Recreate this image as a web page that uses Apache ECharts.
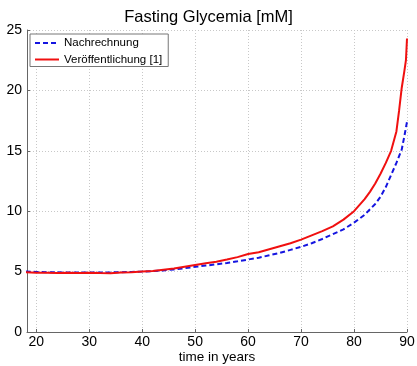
<!DOCTYPE html>
<html><head><meta charset="utf-8">
<script src="https://cdn.jsdelivr.net/npm/echarts@6/dist/echarts.min.js"></script>
<style>html,body{margin:0;padding:0;background:#fff}#c{width:417px;height:366px}</style>
</head><body><div id="c"></div>
<script>
const xTicks = [20, 30, 40, 50, 60, 70, 80, 90];
const yTicks = [0, 5, 10, 15, 20, 25];
const redYears = [18,20,22,24,26,28,30,32,34,36,38,40,42,44,46,48,50,52,54,56,58,60,62,64,66,68,70,72,74,76,78,80,81,82,83,84,85,86,87,88,88.5,89,89.5,89.8,90];
const redVals  = [4.95,4.9,4.9,4.88,4.9,4.88,4.9,4.88,4.87,4.92,4.95,5.0,5.05,5.15,5.25,5.4,5.55,5.7,5.82,6.0,6.2,6.45,6.6,6.85,7.1,7.35,7.65,8.0,8.35,8.75,9.3,10.0,10.5,11.0,11.6,12.3,13.1,14.0,15.0,16.6,18.3,20.2,21.6,22.5,24.3];
const blueYears = [18,20,22,24,26,28,30,32,34,36,38,40,42,44,46,48,50,52,54,56,58,60,62,64,66,68,70,72,74,76,78,80,82,84,85,86,87,88,89,89.5,90];
const blueVals  = [5.0,4.97,4.95,4.94,4.93,4.93,4.92,4.92,4.93,4.95,4.97,5.0,5.04,5.1,5.18,5.28,5.4,5.5,5.6,5.72,5.85,6.0,6.15,6.35,6.55,6.8,7.05,7.35,7.7,8.1,8.5,9.05,9.7,10.6,11.2,12.0,13.0,14.0,15.1,16.2,17.4];
const seriesNames = ['Nachrechnung', 'Veröffentlichung [1]'];

const chart = echarts.init(document.getElementById('c'));
const font = 'Liberation Sans, Arial, sans-serif';
chart.setOption({
  animation: false,
  title: {text: 'Fasting Glycemia [mM]', left: 'center', top: 4,
    textStyle: {fontFamily: font, fontSize: 16.5, fontWeight: 'normal', color: '#000'}},
  legend: {
    left: 30, top: 34, orient: 'vertical', itemGap: 4.5, itemWidth: 24, itemHeight: 12,
    backgroundColor: '#fff', borderColor: '#777', borderWidth: 1, borderRadius: 0,
    padding: [3, 6, 1, 4],
    itemStyle: {opacity: 0},
    textStyle: {fontFamily: font, fontSize: 11.5, color: '#000'}
  },
  grid: {left: 27, right: 10, top: 30, bottom: 34, outerBoundsMode: 'none', containLabel: false},
  xAxis: {
    type: 'value', min: 18.25, max: 90,
    name: 'time in years', nameLocation: 'middle', nameGap: 18, nameMoveOverlap: false,
    nameTextStyle: {fontFamily: font, fontSize: 13.5, color: '#000'},
    axisLine: {show: true, lineStyle: {color: '#666'}},
    axisTick: {show: true, inside: true, length: 3, customValues: xTicks, lineStyle: {color: '#666'}},
    axisLabel: {customValues: xTicks, fontFamily: font, fontSize: 14, color: '#000', margin: 3},
    splitLine: {show: true, lineStyle: {color: '#c8c8c8', type: [1, 2]}}
  },
  yAxis: {
    type: 'value', min: 0, max: 25, interval: 5,
    axisLine: {show: true, lineStyle: {color: '#666'}},
    axisTick: {show: true, inside: true, length: 3, lineStyle: {color: '#666'}},
    axisLabel: {fontFamily: font, fontSize: 14, color: '#000', margin: 5},
    splitLine: {show: true, lineStyle: {color: '#c8c8c8', type: [1, 2]}}
  },
  series: [
    {name: seriesNames[0], type: 'line', showSymbol: false, symbol: 'none', z: 3,
     data: blueYears.map((x, i) => [x, blueVals[i]]),
     lineStyle: {color: '#1515e0', width: 2, type: [5, 3]}, itemStyle: {color: '#1515e0'}},
    {name: seriesNames[1], type: 'line', showSymbol: false, symbol: 'none', z: 4,
     data: redYears.map((x, i) => [x, redVals[i]]),
     lineStyle: {color: '#f01010', width: 2}, itemStyle: {color: '#f01010'}}
  ]
});
</script></body></html>
